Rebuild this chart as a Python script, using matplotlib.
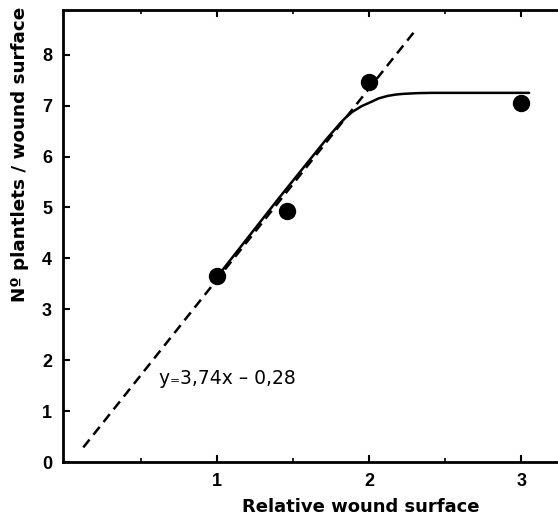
import matplotlib
matplotlib.use("Agg")
import matplotlib.pyplot as plt
import numpy as np

plt.rcParams['font.family'] = ['Liberation Sans', 'DejaVu Sans']

# measured points
wound_x = [1.0, 1.46, 2.0, 3.0]
plantlets_y = [3.65, 4.93, 7.46, 7.05]

# regression line (dashed), end points
fit_x = [0.12, 2.29]
fit_y = [0.29, 8.43]

# saturation curve (solid)
curve_x = [1.0, 1.41, 1.72, 1.77, 1.81, 1.85, 1.89, 1.95, 2.01, 2.06, 2.12, 2.17, 2.22, 2.32, 2.42, 3.05]
curve_y = [3.64, 5.2, 6.35, 6.52, 6.66, 6.78, 6.88, 6.99, 7.07, 7.14, 7.19, 7.215, 7.23, 7.245, 7.25, 7.25]

x_ticks = [1, 2, 3]
y_ticks = [0, 1, 2, 3, 4, 5, 6, 7, 8]

fig = plt.figure(figsize=(5.58, 5.17), dpi=100)
ax = fig.add_axes([0.113, 0.106, 0.887, 0.875])

ax.plot(fit_x, fit_y, color='black', lw=1.8, dashes=[4, 2.5])
ax.plot(curve_x, curve_y, color='black', lw=1.8, solid_capstyle='round', solid_joinstyle='round')
ax.plot(wound_x, plantlets_y, 'o', color='black', ms=11.5)

ax.text(0.62, 1.65, 'y\u208c3,74x \u2013 0,28', fontsize=13.5, va='center', ha='left',
        family=['DejaVu Sans'])

ax.set_xlim(-0.013, 3.24)
ax.set_ylim(0, 8.88)
ax.set_xticks(x_ticks)
ax.set_xticks([0.5, 1.5, 2.5], minor=True)
ax.set_yticks(y_ticks)

for s in ['left', 'bottom', 'top']:
    ax.spines[s].set_linewidth(2)
ax.spines['right'].set_visible(False)

ax.tick_params(axis='both', direction='in', width=1.5, length=5, labelsize=13, pad=8)
ax.tick_params(axis='x', which='both', top=True)
ax.tick_params(axis='x', which='minor', direction='in', width=1.2, length=3, top=True)
for lbl in ax.get_xticklabels() + ax.get_yticklabels():
    lbl.set_fontweight('bold')

ax.set_xlabel('Relative wound surface', fontsize=13, fontweight='bold', family=['DejaVu Sans'])
ax.set_ylabel('N\u00ba plantlets / wound surface', fontsize=13.2, fontweight='bold',
              family=['DejaVu Sans'])
ax.xaxis.set_label_coords(0.602, -0.08)
ax.yaxis.set_label_coords(-0.069, 0.68)

fig.savefig('out.png', dpi=100)
